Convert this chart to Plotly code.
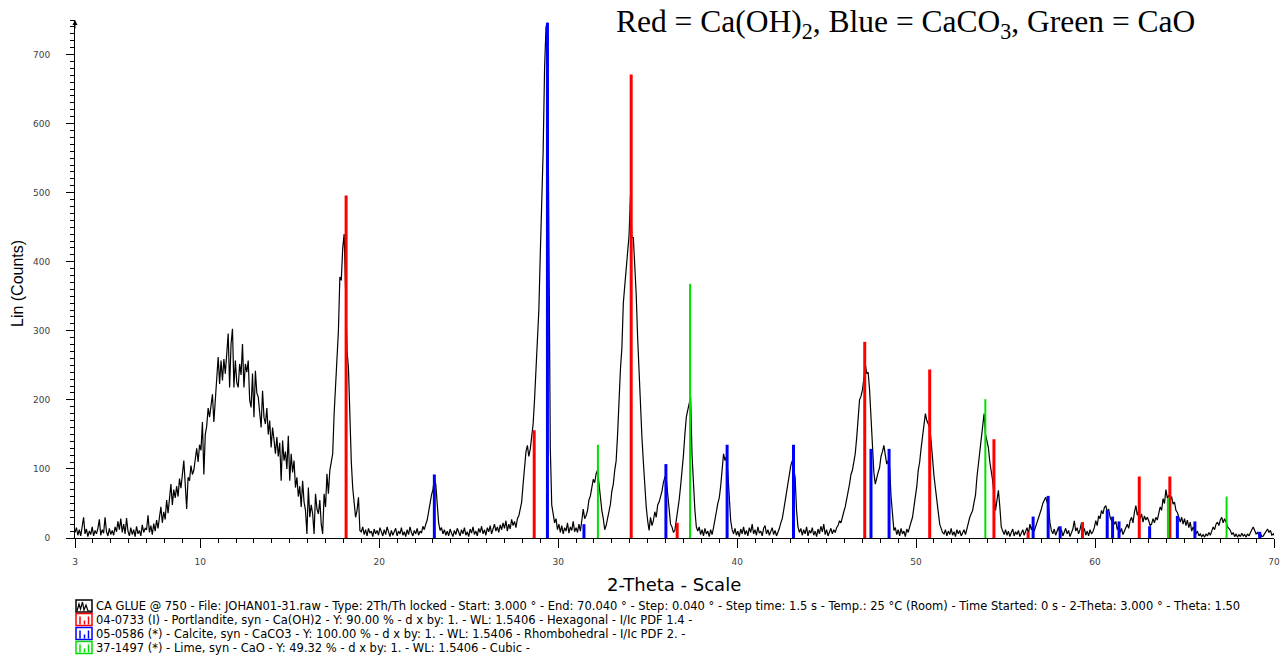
import plotly.graph_objects as go

step_2theta = 0.08
counts_03 = [8, 15, 4, 12, 3, 18, 30, 6, 13, 2, 10, 5, 16, 3, 11, 6, 14, 27, 4, 12,
             7, 30, 9, 3, 14, 5, 11, 4, 16, 9, 24, 12, 28, 8, 20, 6, 29, 10, 3, 15,
             5, 12, 2, 17, 6, 11, 3, 19, 8, 14]
counts_07 = [12, 33, 8, 18, 5, 21, 10, 26, 14, 30, 45, 22, 38, 27, 55, 36, 62, 78, 48, 70,
             58, 75, 60, 86, 72, 95, 112, 78, 42, 88, 83, 105, 92, 98, 118, 130, 110, 135, 127, 168,
             92, 150, 162, 188, 175, 196, 208, 168, 200, 218]
counts_11 = [262, 223, 257, 228, 259, 238, 270, 296, 218, 281, 303, 218, 257, 225, 218, 252, 236, 281, 218, 252,
             240, 257, 200, 189, 238, 175, 242, 210, 204, 185, 160, 213, 175, 165, 188, 150, 170, 131, 160, 142,
             122, 146, 118, 138, 83, 141, 112, 125, 100, 148]
counts_15 = [83, 122, 95, 112, 73, 88, 60, 75, 45, 83, 52, 40, 6, 73, 30, 48, 35, 6, 64, 42,
             35, 55, 20, 6, 64, 45, 93, 64, 98, 110, 122, 180, 228, 267, 300, 378, 373, 420, 440, 360,
             271, 247, 175, 110, 72, 45, 30, 40, 59, 11]
counts_19 = [9, 16, 5, 12, 3, 14, 7, 10, 2, 13, 6, 11, 4, 15, 8, 3, 12, 5, 16, 7,
             2, 11, 4, 9, 14, 3, 10, 6, 15, 4, 9, 2, 12, 5, 16, 8, 3, 11, 6, 14,
             4, 10, 7, 17, 12, 20, 26, 38, 54, 62]
counts_23 = [70, 85, 78, 50, 22, 11, 15, 6, 12, 4, 10, 3, 13, 7, 2, 11, 5, 14, 8, 3,
             12, 6, 15, 4, 9, 2, 13, 7, 16, 5, 10, 3, 14, 8, 17, 6, 12, 4, 15, 9,
             18, 6, 13, 20, 10, 16, 8, 19, 12, 22]
counts_27 = [14, 25, 10, 20, 13, 27, 18, 24, 15, 28, 32, 40, 52, 78, 100, 125, 134, 118, 129, 150,
             165, 201, 240, 275, 330, 410, 470, 560, 680, 740, 746, 480, 130, 48, 35, 22, 28, 12, 20, 8,
             18, 6, 15, 10, 22, 7, 16, 11, 24, 9]
counts_31 = [15, 8, 20, 10, 25, 42, 28, 32, 40, 55, 61, 75, 85, 80, 93, 98, 75, 54, 40, 28,
             12, 18, 30, 40, 49, 68, 78, 98, 112, 150, 205, 245, 275, 340, 365, 390, 420, 438, 496, 435,
             435, 400, 353, 290, 235, 180, 146, 110, 70, 45]
counts_35 = [25, 11, 30, 18, 25, 38, 30, 48, 52, 59, 68, 80, 88, 86, 60, 38, 20, 16, 8, 11,
             25, 40, 55, 75, 93, 120, 150, 175, 185, 195, 204, 120, 70, 40, 16, 10, 16, 5, 12, 3,
             14, 6, 10, 2, 12, 5, 15, 30, 38, 50]
counts_39 = [58, 75, 100, 122, 112, 118, 95, 55, 25, 12, 6, 14, 4, 10, 2, 13, 6, 16, 5, 11,
             3, 15, 8, 20, 6, 12, 4, 16, 7, 10, 3, 14, 18, 6, 12, 4, 9, 15, 5, 11,
             3, 8, 14, 22, 28, 40, 54, 62, 78, 95]
counts_43 = [105, 112, 100, 88, 40, 16, 8, 14, 4, 12, 6, 16, 3, 11, 7, 15, 4, 10, 2, 13,
             6, 17, 9, 20, 5, 12, 3, 10, 14, 6, 12, 8, 15, 18, 25, 22, 32, 38, 45, 55,
             69, 78, 92, 98, 110, 122, 145, 175, 200, 205]
counts_47 = [214, 230, 252, 238, 240, 215, 170, 117, 95, 78, 88, 95, 102, 118, 125, 134, 120, 107, 112, 104,
             60, 30, 11, 15, 5, 12, 3, 14, 6, 10, 2, 13, 8, 16, 22, 30, 45, 59, 75, 98,
             110, 130, 145, 165, 180, 170, 165, 160, 140, 112]
counts_51 = [90, 72, 55, 38, 20, 14, 8, 6, 12, 3, 10, 5, 14, 4, 9, 2, 12, 6, 11, 3,
             8, 12, 5, 15, 20, 30, 35, 40, 52, 62, 88, 107, 128, 141, 160, 180, 150, 141, 131, 110,
             98, 83, 62, 40, 55, 69, 45, 16, 10, 5]
counts_55 = [12, 4, 10, 2, 8, 13, 3, 9, 5, 11, 2, 7, 12, 4, 9, 15, 6, 20, 12, 18,
             10, 16, 25, 28, 35, 42, 50, 54, 59, 52, 45, 22, 11, 6, 13, 4, 10, 16, 5, 12,
             3, 9, 14, 6, 11, 2, 8, 13, 25, 10]
counts_59 = [15, 6, 12, 22, 8, 14, 4, 10, 3, 12, 6, 9, 15, 25, 18, 32, 28, 40, 35, 44,
             47, 38, 42, 30, 25, 28, 20, 24, 12, 18, 8, 14, 5, 11, 16, 20, 14, 25, 30, 22,
             37, 47, 33, 40, 28, 35, 23, 32, 26, 30]
counts_63 = [25, 18, 20, 28, 22, 30, 26, 38, 45, 40, 57, 50, 70, 58, 62, 54, 60, 49, 52, 40,
             37, 30, 23, 30, 20, 28, 18, 26, 15, 23, 10, 16, 11, 6, 10, 3, 6, 2, 5, 1,
             6, 3, 8, 4, 10, 16, 12, 20, 23, 18]
counts_67 = [26, 30, 22, 28, 23, 16, 14, 11, 5, 8, 2, 6, 1, 5, 2, 7, 3, 5, 1, 6,
             3, 9, 12, 16, 10, 6, 8, 4, 7, 2, 3, 6, 9, 13, 8, 11, 4, 6, 3]

segment_starts = [3.0, 7.0, 11.0, 15.0, 19.0, 23.0, 27.0, 31.0, 35.0, 39.0, 43.0, 47.0,
                  51.0, 55.0, 59.0, 63.0, 67.0]
segment_counts = [counts_03, counts_07, counts_11, counts_15, counts_19, counts_23, counts_27,
                  counts_31, counts_35, counts_39, counts_43, counts_47, counts_51, counts_55,
                  counts_59, counts_63, counts_67]

# ---------------- reference patterns (stick positions / heights) ----------------
portlandite_2theta = [18.15, 28.66, 34.08, 36.65, 47.13, 50.76, 54.35, 56.26, 59.30, 62.47, 64.18]
portlandite_counts = [496, 156, 671, 22, 284, 244, 143, 9, 23, 89, 89]
calcite_2theta = [23.08, 29.40, 31.44, 36.02, 39.44, 43.15, 47.48, 48.49, 56.54, 57.38, 58.05,
                  60.68, 60.98, 61.34, 63.05, 64.60, 65.58, 69.20]
calcite_counts = [92, 746, 20, 107, 135, 135, 129, 129, 31, 61, 17, 40, 31, 24, 17, 32, 24, 9]
lime_2theta = [32.22, 37.37, 53.87, 64.07, 67.35]
lime_counts = [135, 368, 201, 58, 60]

x_ticks = [3, 10, 20, 30, 40, 50, 60, 70]

title_text = "Red = Ca(OH)<sub>2</sub>, Blue = CaCO<sub>3</sub>, Green = CaO"
legend_lines = [
    "CA GLUE @ 750 - File: JOHAN01-31.raw - Type: 2Th/Th locked - Start: 3.000 ° - End: 70.040 ° - Step: 0.040 ° - Step time: 1.5 s - Temp.: 25 °C (Room) - Time Started: 0 s - 2-Theta: 3.000 ° - Theta: 1.50",
    "04-0733 (I) - Portlandite, syn - Ca(OH)2 - Y: 90.00 % - d x by: 1. - WL: 1.5406 - Hexagonal - I/Ic PDF 1.4 -",
    "05-0586 (*) - Calcite, syn - CaCO3 - Y: 100.00 % - d x by: 1. - WL: 1.5406 - Rhombohedral - I/Ic PDF 2. -",
    "37-1497 (*) - Lime, syn - CaO - Y: 49.32 % - d x by: 1. - WL: 1.5406 - Cubic -",
]
legend_colors = ["black", "#FF0000", "#0000FF", "#00E000"]

# ---------------- build traces ----------------
two_theta, counts = [], []
for start, vals in zip(segment_starts, segment_counts):
    for i, v in enumerate(vals):
        two_theta.append(round(start + i * step_2theta, 2))
        counts.append(v)


def sticks(xs, ys):
    sx, sy = [], []
    for x, y in zip(xs, ys):
        sx += [x, x, None]
        sy += [0, y, None]
    return sx, sy


fig = go.Figure()
fig.add_trace(go.Scatter(x=two_theta, y=counts, mode="lines",
                         line=dict(color="black", width=1.2), hoverinfo="skip"))
for xs, ys, col, w in [(portlandite_2theta, portlandite_counts, "#FF0000", 3),
                       (calcite_2theta, calcite_counts, "#0000FF", 3),
                       (lime_2theta, lime_counts, "#00E000", 2)]:
    sx, sy = sticks(xs, ys)
    fig.add_trace(go.Scatter(x=sx, y=sy, mode="lines", line=dict(color=col, width=w),
                             hoverinfo="skip"))

# ---------------- layout ----------------
W, H = 1284, 659
ML, MR, MT, MB = 75, 10, 20, 121
PW, PH = W - ML - MR, H - MT - MB


def px(xp):
    return (xp - ML) / PW


def py(yp):
    return (H - MB - yp) / PH


tickfont = dict(family="DejaVu Sans", size=9, color="#404040")
fig.update_layout(
    width=W, height=H, margin=dict(l=ML, r=MR, t=MT, b=MB, autoexpand=False),
    paper_bgcolor="white", plot_bgcolor="white", showlegend=False,
    xaxis=dict(range=[3, 70], showline=True, linecolor="black", linewidth=1,
               ticks="outside", tickmode="array", tickvals=x_ticks,
               ticktext=[str(t) for t in x_ticks], ticklen=9, tickcolor="black",
               tickfont=tickfont, ticklabelstandoff=6, showgrid=False, zeroline=False,
               minor=dict(tickmode="linear", tick0=0, dtick=1, ticks="outside",
                          ticklen=4, tickcolor="black", showgrid=False)),
    yaxis=dict(range=[0, 750], showline=True, linecolor="black", linewidth=1,
               ticks="outside", tick0=0, dtick=100, ticklen=8, tickcolor="black",
               tickfont=tickfont, ticklabelstandoff=14, showgrid=False, zeroline=False,
               minor=dict(tick0=0, dtick=10, ticks="outside", ticklen=4,
                          tickcolor="black", showgrid=False)),
)

ann = []
ann.append(dict(x=px(614), y=py(24), xref="paper", yref="paper", xanchor="left",
                yanchor="middle", text=title_text, showarrow=False,
                font=dict(family="Liberation Serif", size=31.5, color="black")))
ann.append(dict(x=px(674), y=py(584), xref="paper", yref="paper", xanchor="center",
                yanchor="middle", text="2-Theta - Scale", showarrow=False,
                font=dict(family="DejaVu Sans", size=18, color="black")))
ann.append(dict(x=px(17), y=py(283), xref="paper", yref="paper", xanchor="center",
                yanchor="middle", text="Lin (Counts)", textangle=-90, showarrow=False,
                font=dict(family="Liberation Sans", size=16, color="black")))
ann.append(dict(x=3, y=750, xref="x", yref="y", ax=0, ay=10, text="", showarrow=True,
                arrowhead=2, arrowsize=1, arrowwidth=1, arrowcolor="black"))

legend_y = [606, 619.5, 633.5, 647.5]
for txt, yc in zip(legend_lines, legend_y):
    ann.append(dict(x=px(94), y=py(yc), xref="paper", yref="paper", xanchor="left",
                    yanchor="middle", text=txt, showarrow=False,
                    font=dict(family="DejaVu Sans", size=11.5, color="black")))

shapes = []
for i, (col, yc) in enumerate(zip(legend_colors, legend_y)):
    top, bot = yc - 6, yc + 6
    shapes.append(dict(type="rect", xref="paper", yref="paper",
                       x0=px(76), x1=px(92), y0=py(bot), y1=py(top),
                       line=dict(color=col, width=1.5)))
    if i == 0:
        pts = [(77, bot - 1), (79, top + 4), (80.5, bot - 3), (82.5, top + 2),
               (84, bot - 2), (86, top + 5), (88, bot - 1), (91, bot - 1)]
        path = "M " + " L ".join(f"{px(a)} {py(b)}" for a, b in pts)
        shapes.append(dict(type="path", xref="paper", yref="paper", path=path,
                           line=dict(color=col, width=1.2)))
    else:
        for bx, bt in [(80, top + 3), (84.5, top + 7), (88.5, top + 3)]:
            shapes.append(dict(type="line", xref="paper", yref="paper",
                               x0=px(bx), x1=px(bx), y0=py(bot - 1), y1=py(bt),
                               line=dict(color=col, width=1.5)))

fig.update_layout(annotations=ann, shapes=shapes)
fig.write_html("out.html", config={"displayModeBar": False},
               post_script="document.body.style.margin='0';document.body.style.overflow='hidden';")
